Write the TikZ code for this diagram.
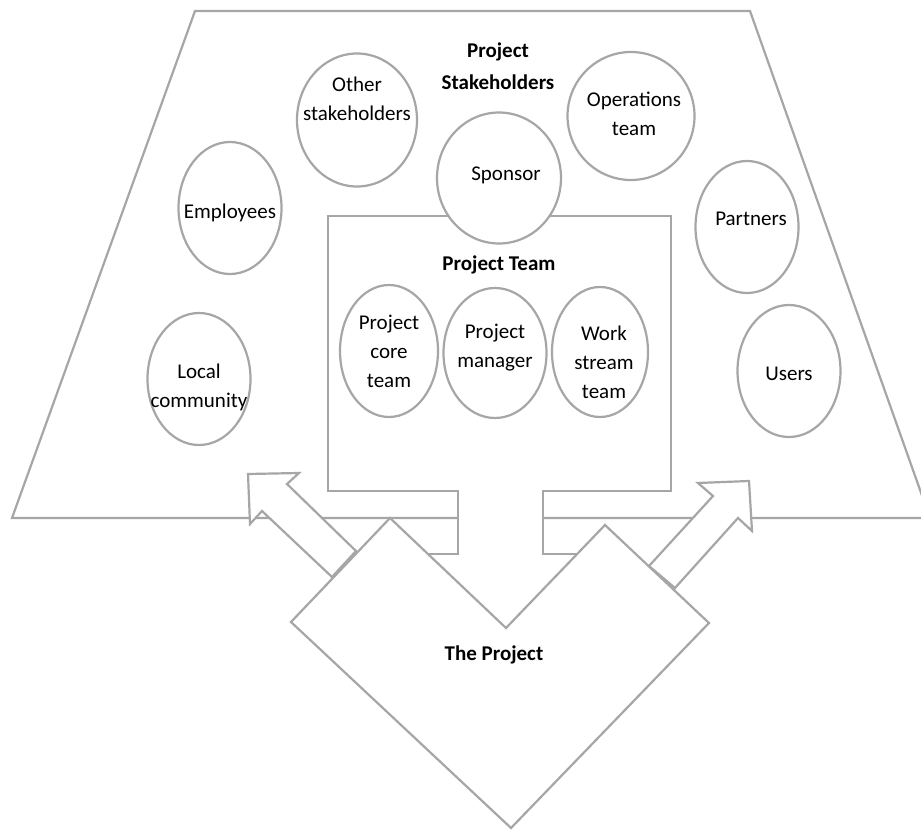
\documentclass[tikz,border=0pt]{standalone}
\usepackage{fontspec}
\setmainfont{Carlito}
\usetikzlibrary{shapes.geometric}
\definecolor{Ln}{RGB}{166,166,166}

\begin{document}
\begin{tikzpicture}[x=0.5pt, y=-0.5pt, line join=miter,
  outline/.style={draw=Ln, line width=1.1pt, fill=white},
  bubbletext/.style={align=center, font=\fontsize{10.5}{14.5}\selectfont},
  bubble/.style={ellipse, outline, inner sep=0pt, minimum width=51.5pt, minimum height=66pt},
  caption/.style={align=center, font=\fontsize{10.5}{16}\selectfont\bfseries}]
  \useasboundingbox (0,0) rectangle (921,830);

  % Stakeholder area
  \draw[outline] (195,11) -- (750,11) -- (930,518) -- (12,518) -- cycle;
  \node[caption] (stake) at (498,66) {Project\\Stakeholders};

  % Project team box, its stem runs under the project shape
  \draw[outline] (328,216) -- (671,216) -- (671,491) -- (543,491) -- (543,554) -- (590,554)
    -- (590,645) -- (420,645) -- (420,554) -- (458,554) -- (458,491) -- (328,491) -- cycle;
  \node[caption] (team) at (499,265) {Project Team};

  % Stakeholders
  \node[bubble, minimum width=60pt, minimum height=66.5pt,
    label={[bubbletext, yshift=10.5pt]center:Other\\stakeholders}] (other) at (357,120) {};
  \node[bubble, minimum width=62pt, minimum height=65.5pt,
    label={[bubbletext, xshift=3.5pt, yshift=1.5pt]center:Sponsor}] (sponsor) at (499,178) {};
  \node[bubble, minimum width=63.5pt, minimum height=64pt,
    label={[bubbletext, xshift=1.5pt, yshift=1pt]center:Operations\\team}] (ops) at (631,116) {};
  \node[bubble, label={[bubbletext, yshift=-2.5pt]center:Employees}] (emp) at (230,208) {};
  \node[bubble, label={[bubbletext, xshift=2pt, yshift=4pt]center:Partners}] (partners) at (747,227) {};
  \node[bubble, label={[bubbletext, yshift=-4pt]center:Local\\community}] (local) at (199,379) {};
  \node[bubble, label={[bubbletext, yshift=-1.5pt]center:Users}] (users) at (789,371) {};

  % Team members
  \node[bubble, minimum width=49pt, label={[bubbletext]center:Project\\core\\team}] (core) at (389,351) {};
  \node[bubble, minimum height=65pt,
    label={[bubbletext, yshift=2.5pt]center:Project\\manager}] (manager) at (495,353) {};
  \node[bubble, minimum width=48pt, minimum height=65pt,
    label={[bubbletext, xshift=2pt, yshift=-5pt]center:Work\\stream\\team}] (stream) at (600,352) {};

  % The project
  \draw[outline] (291,622) -- (390,518) -- (506,628) -- (605,525) -- (709,623) -- (511,828) -- cycle;
  \node[caption] (proj) at (494,655) {The Project};

  % Block arrows
  \draw[outline] (332,577) -- (262,511) -- (250,524) -- (248,474) -- (299,473) -- (287,484) -- (356,551) -- cycle;
  \draw[outline] (649,566) -- (713,496) -- (698,483) -- (749,481) -- (752,531) -- (738,518) -- (675,588) -- cycle;
\end{tikzpicture}
\end{document}
